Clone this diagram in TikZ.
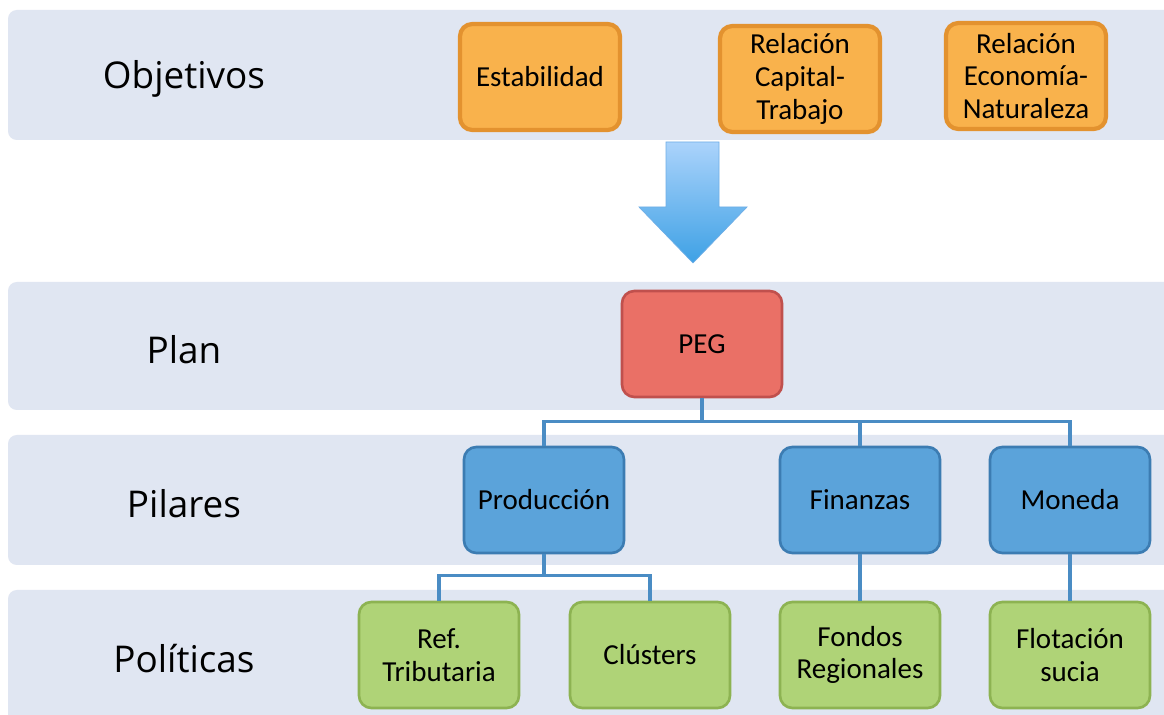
\documentclass[tikz,border=0pt]{standalone}
\usepackage{fontspec}
\setmainfont{Carlito}
\newfontfamily\rowfont{Open Sans}
\definecolor{bandfill}{HTML}{E0E6F2}
\definecolor{objfill}{HTML}{F9B24C}
\definecolor{objline}{HTML}{E3922F}
\definecolor{planfill}{HTML}{EA7066}
\definecolor{planline}{HTML}{C0504D}
\definecolor{pilfill}{HTML}{5BA3DA}
\definecolor{pilline}{HTML}{3C7CB2}
\definecolor{polfill}{HTML}{AFD377}
\definecolor{polline}{HTML}{8DB352}
\definecolor{linkblue}{HTML}{4A8CC4}
\definecolor{arrowtop}{HTML}{ABD3FB}
\definecolor{arrowbot}{HTML}{3EA1E5}
\definecolor{arrowline}{HTML}{6FAEE6}

\begin{document}
\begin{tikzpicture}[x=0.02cm, y=-0.02cm,
  band/.style={fill=bandfill, rounded corners=5pt},
  rowlabel/.style={font=\rowfont\fontsize{21}{24}\selectfont},
  box/.style={line width=2pt, rounded corners=7pt, minimum width=3.2cm,
    minimum height=2.12cm, align=center, font=\fontsize{16.5}{18.7}\selectfont},
  objbox/.style={box, fill=objfill, draw=objline, line width=2.4pt},
  planbox/.style={box, fill=planfill, draw=planline, line width=1.5pt},
  pilbox/.style={box, fill=pilfill, draw=pilline, line width=1.5pt},
  polbox/.style={box, fill=polfill, draw=polline, line width=1.5pt},
  link/.style={draw=linkblue, line width=2pt}]
  \clip (0,0) rectangle (1164,715);
  \fill[white] (0,0) rectangle (1164,715);

  \fill[band] (8,10) rectangle (1190,140);
  \fill[band] (8,282) rectangle (1190,410);
  \fill[band] (8,435) rectangle (1190,565);
  \fill[band] (8,590) rectangle (1190,740);

  \node[rowlabel] (objetivos) at (184,79) {Objetivos};
  \node[rowlabel] (plan) at (184,350) {Plan};
  \node[rowlabel] (pilares) at (184,504) {Pilares};
  \node[rowlabel] (politicas) at (184,659) {Políticas};

  \node[objbox] (estabilidad) at (540,77) {Estabilidad};
  \node[objbox] (capital) at (800,79) {Relación\\Capital-\\Trabajo};
  \node[objbox] (naturaleza) at (1026,76) {Relación\\Economía-\\Naturaleza};

  \draw[arrowline, top color=arrowtop, bottom color=arrowbot]
    (666,142) -- (719,142) -- (719,207) -- (747,207) -- (693,263)
    -- (639,207) -- (666,207) -- cycle;

  \node[planbox] (peg) at (702,344) {PEG};

  \node[pilbox] (produccion) at (544,500) {Producción};
  \node[pilbox] (finanzas) at (860,500) {Finanzas};
  \node[pilbox] (moneda) at (1070,500) {Moneda};

  \node[polbox] (ref) at (439,655) {Ref.\\Tributaria};
  \node[polbox] (clusters) at (650,655) {Clústers};
  \node[polbox] (fondos) at (860,655) {Fondos\\Regionales};
  \node[polbox] (flotacion) at (1070,655) {Flotación\\sucia};

  \draw[link] (peg.south) -- ++(0,23) coordinate (pegbus);
  \draw[link] (produccion.north) |- (pegbus) -| (moneda.north);
  \draw[link] (finanzas.north) -- (finanzas.north |- pegbus);
  \draw[link] (produccion.south) -- ++(0,21) coordinate (prodbus);
  \draw[link] (ref.north) |- (prodbus) -| (clusters.north);
  \draw[link] (finanzas.south) -- (fondos.north);
  \draw[link] (moneda.south) -- (flotacion.north);
\end{tikzpicture}
\end{document}
